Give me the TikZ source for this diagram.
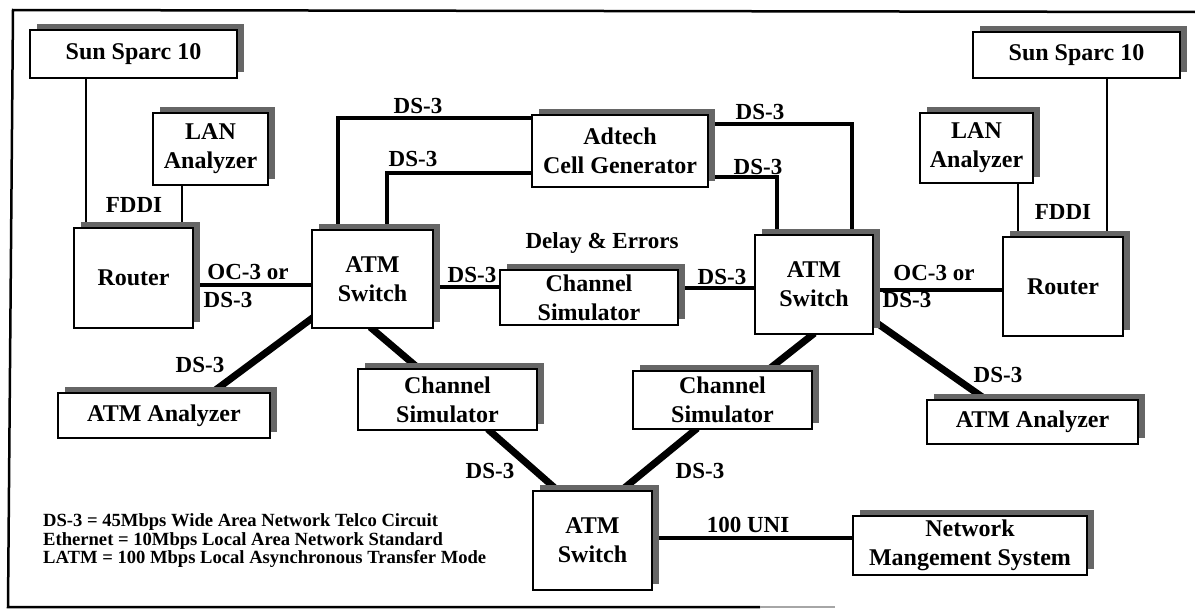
\documentclass[tikz,border=0pt]{standalone}
\usepackage{fontspec}
\setmainfont{Liberation Serif}
\usetikzlibrary{shadows}

\pgfdeclarelayer{background}
\pgfsetlayers{background,main}

\begin{document}
\begin{tikzpicture}[x=1pt, y=-1pt,
    box/.style={draw, line width=2.2pt, fill=white, align=center, inner sep=0pt,
        font=\fontsize{24}{29}\selectfont\bfseries,
        drop shadow={shadow xshift=7pt, shadow yshift=6pt, opacity=1, fill=black!60}},
    dims/.style 2 args={minimum width=#1pt, minimum height=#2pt},
    lbl/.style={font=\fontsize{23}{26}\selectfont\bfseries, inner sep=0pt},
    fddi/.style={line width=1.8pt},
    trunk/.style={line width=4.5pt},
    spur/.style={line width=7pt, shorten <=-3pt, shorten >=-3pt}]
        \useasboundingbox (0,0) rectangle (1195,613);

        % Frame
        \draw[line width=2.5pt] (1195,12) -- (13,10) -- (8,607) -- (760,607);
        \draw[line width=2.5pt, black!35] (760,607) -- (835,607);

        % Left site
        \node[box, dims={207}{48}] (sunL) at (133.5,54) {Sun Sparc 10};
        \node[box, dims={115}{72}] (lanL) at (210.5,149) {LAN\\Analyzer};
        \node[box, dims={119}{100}] (routerL) at (133.5,278) {Router};
        \node[box, dims={121}{98}] (switchL) at (372.5,279) {ATM\\Switch};
        \node[box, dims={212}{45}] (anaL) at (164,415.5) {ATM Analyzer};

        % Middle
        \node[box, dims={176}{72}] (adtech) at (620,151) {Adtech\\Cell Generator};
        \node[box, dims={178}{55}] (chanM) at (589,297.5) {Channel\\Simulator};
        \node[box, dims={179}{61}] (chanL) at (447.5,399.5) {Channel\\Simulator};
        \node[box, dims={179}{58}] (chanR) at (722.5,400) {Channel\\Simulator};
        \node[box, dims={119}{99}] (switchB) at (592.5,540.5) {ATM\\Switch};
        \node[box, dims={234}{59}] (nms) at (970,545.5) {Network\\Mangement System};

        % Right site
        \node[box, dims={118}{99}] (switchR) at (814,284.5) {ATM\\Switch};
        \node[box, dims={120}{99}] (routerR) at (1063,286.5) {Router};
        \node[box, dims={207}{46}] (sunR) at (1076.5,55) {Sun Sparc 10};
        \node[box, dims={113}{70}] (lanR) at (976.5,148) {LAN\\Analyzer};
        \node[box, dims={211}{44}] (anaR) at (1032.5,422) {ATM Analyzer};

        \begin{pgfonlayer}{background}
        % FDDI drops
        \draw[fddi] ([xshift=-47.5pt]sunL.south) -- ([xshift=-47.5pt]routerL.north);
        \draw[fddi] ([xshift=-28.5pt]lanL.south) -- ([xshift=48.5pt]routerL.north);
        \draw[fddi] ([xshift=30.5pt]sunR.south) -- ([xshift=44pt]routerR.north);
        \draw[fddi] ([xshift=41.5pt]lanR.south) -- ([xshift=-45pt]routerR.north);

        % Straight trunks
        \draw[trunk] ([yshift=-7pt]routerL.east) -- ([yshift=-6pt]switchL.west);
        \draw[trunk] ([yshift=-8pt]switchL.east) -- ([yshift=10.5pt]chanM.west);
        \draw[trunk] ([yshift=9.5pt]chanM.east) -- ([yshift=-3.5pt]switchR.west);
        \draw[trunk] ([yshift=-5.5pt]switchR.east) -- ([yshift=-3.5pt]routerR.west);
        \draw[trunk] ([yshift=2.5pt]switchB.east) -- ([yshift=7.5pt]nms.west);

        % Through the cell generator
        \draw[trunk] ([xshift=-34.5pt]switchL.north) |- ([yshift=33pt]adtech.west);
        \draw[trunk] ([xshift=14.5pt]switchL.north) |- ([yshift=-22pt]adtech.west);
        \draw[trunk] ([yshift=27pt]adtech.east) -| ([xshift=38pt]switchR.north);
        \draw[trunk] ([yshift=-26pt]adtech.east) -| ([xshift=-37pt]switchR.north);

        % Diagonal spurs
        \draw[spur] ([yshift=10pt]switchL.south west) -- ([xshift=49pt]anaL.north);
        \draw[spur] (switchL.south) -- ([xshift=-29.5pt]chanL.north);
        \draw[spur] ([xshift=42.5pt]chanL.south) -- ([xshift=-35.5pt]switchB.north);
        \draw[spur] ([xshift=29.5pt]switchB.north) -- ([xshift=-27.5pt]chanR.south);
        \draw[spur] ([xshift=-2pt]switchR.south) -- ([xshift=45.5pt]chanR.north);
        \draw[spur] ([yshift=14pt]switchR.south east) -- ([xshift=-47.5pt]anaR.north);
        \end{pgfonlayer}

        % Link labels
        \node[lbl] (fddiL) at (134,205) {FDDI};
        \node[lbl] (fddiR) at (1063,212) {FDDI};
        \node[lbl] (ocL) at (248,272) {OC-3 or};
        \node[lbl] (ocLds) at (228,300) {DS-3};
        \node[lbl] (ocR) at (934,273) {OC-3 or};
        \node[lbl] (ocRds) at (907,300) {DS-3};
        \node[lbl] (genLa) at (418,106) {DS-3};
        \node[lbl] (genLb) at (413,159) {DS-3};
        \node[lbl] (genRa) at (760,112) {DS-3};
        \node[lbl] (genRb) at (758,167) {DS-3};
        \node[lbl] (delay) at (602,243) {Delay \& Errors};
        \node[lbl] (simL) at (472,275) {DS-3};
        \node[lbl] (simR) at (722,277) {DS-3};
        \node[lbl] (anaLds) at (200,365) {DS-3};
        \node[lbl] (anaRds) at (998,375) {DS-3};
        \node[lbl] (botL) at (490,471) {DS-3};
        \node[lbl] (botR) at (700,471) {DS-3};
        \node[lbl] (uni) at (748,525) {100 UNI};

        % Legend
        \node[font=\fontsize{18.6}{18.5}\selectfont\bfseries, align=left, anchor=west, inner sep=0pt]
            (legend) at (43,541) {DS-3 = 45Mbps Wide Area Network Telco Circuit\\
            Ethernet = 10Mbps Local Area Network Standard\\
            LATM = 100 Mbps Local Asynchronous Transfer Mode};
    \end{tikzpicture}
\end{document}
